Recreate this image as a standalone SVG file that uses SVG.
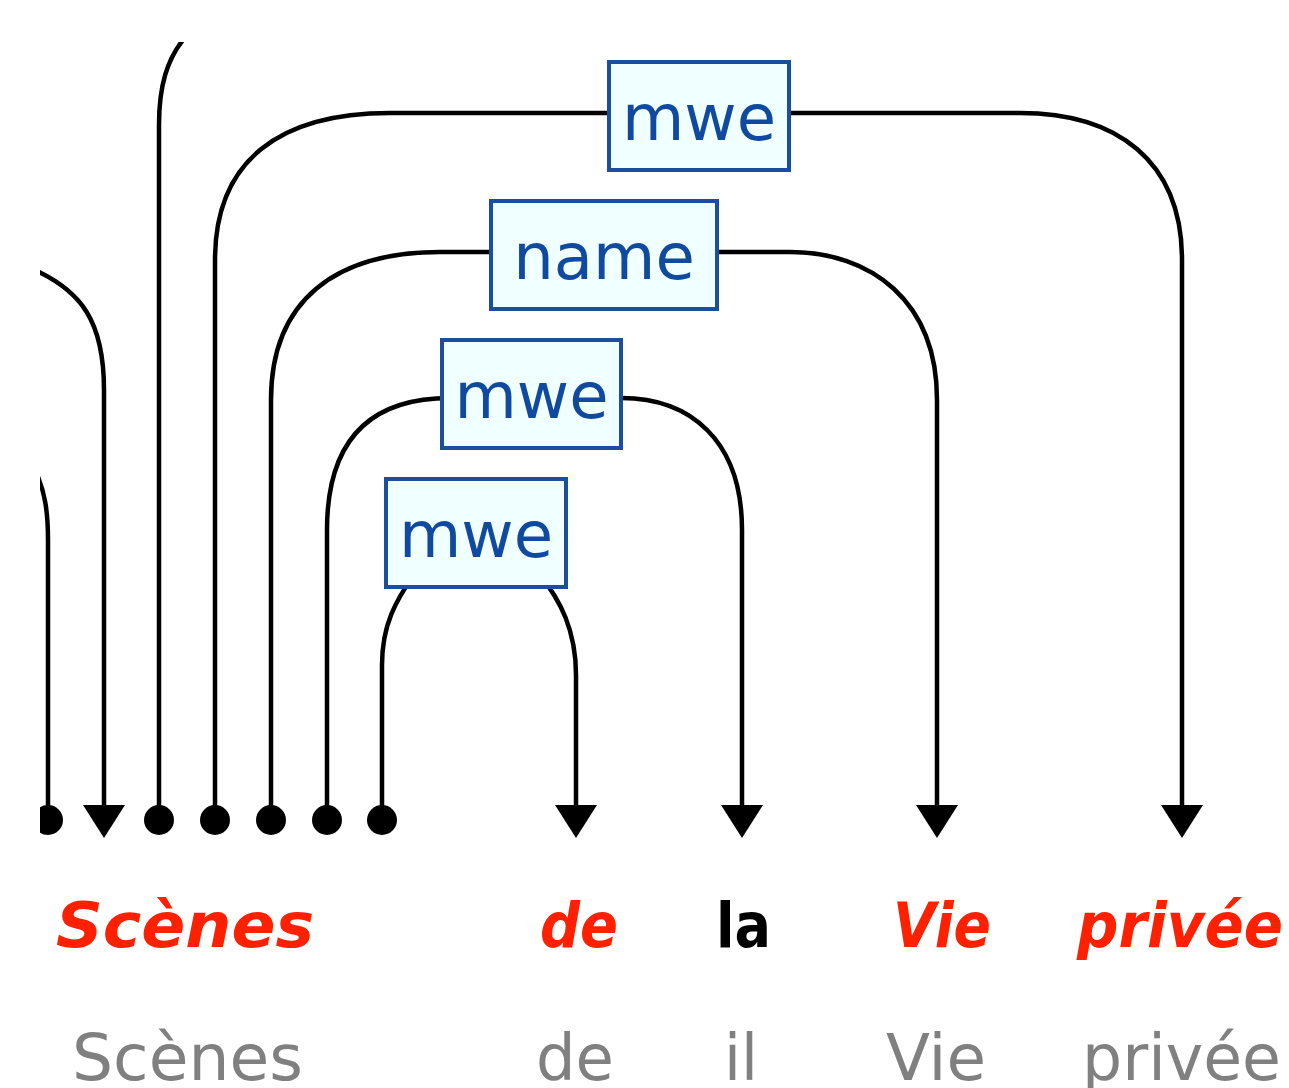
<svg xmlns="http://www.w3.org/2000/svg" width="1289" height="1088" viewBox="0 0 1289 1088">
  <style>
    .arc { fill: none; stroke: #000; stroke-width: 4.5; }
    .dot { fill: #000; }
    .head { fill: #000; }
    .lbl rect { fill: #f0ffff; stroke: #1a4e9e; stroke-width: 4; }
    .lbl text { font-family: "DejaVu Sans", Verdana, sans-serif; font-size: 64px; fill: #0f4aa0; text-anchor: middle; }
    .word { font-family: "DejaVu Sans", Verdana, sans-serif; font-size: 62px; font-weight: bold; font-style: italic; fill: #ff2000; }
    .word.plain { font-style: normal; fill: #000; }
    .lemma { font-family: "DejaVu Sans", Verdana, sans-serif; font-size: 64px; fill: #808080; }
  </style>
  <defs>
    <clipPath id="view">
      <rect x="40" y="42" width="1249" height="1046"/>
    </clipPath>
  </defs>
  <rect x="0" y="0" width="1289" height="1088" fill="#fff"/>

  <g clip-path="url(#view)">
    <!-- connectors -->
    <g id="connectors">
      <!-- arcs entering from outside the visible span -->
      <path class="arc" d="M48,820 L48,540 C48,512 45,492 36,472"/>
      <path class="arc" d="M104,808 L104,390 C104,322 82,290 30,268"/>
      <path class="arc" d="M159,820 L159,125 C159,88 166,58 188,34"/>
      <!-- mwe: Scènes -> privée -->
      <path class="arc" d="M215,820 L215,260 C215,160 280,113 390,113 L1020,113 C1116,113 1182,160 1182,260 L1182,808"/>
      <!-- name: Scènes -> Vie -->
      <path class="arc" d="M271,820 L271,400 C271,300 336,252 440,252 L790,252 C870,252 937,300 937,400 L937,808"/>
      <!-- mwe: Scènes -> la -->
      <path class="arc" d="M327,820 L327,530 C327,440 370,398 450,398 L621,398 C690,398 742,440 742,530 L742,808"/>
      <!-- mwe: Scènes -> de -->
      <path class="arc" d="M382,820 L382,665 C382,625 396,600 414,575 M540,575 C560,600 576,630 576,675 L576,808"/>

      <!-- endpoints -->
      <circle class="dot" cx="48" cy="820" r="15"/>
      <circle class="dot" cx="159" cy="820" r="15"/>
      <circle class="dot" cx="215" cy="820" r="15"/>
      <circle class="dot" cx="271" cy="820" r="15"/>
      <circle class="dot" cx="327" cy="820" r="15"/>
      <circle class="dot" cx="382" cy="820" r="15"/>
      <polygon class="head" points="83,805 125,805 104,838"/>
      <polygon class="head" points="555,805 597,805 576,838"/>
      <polygon class="head" points="721,805 763,805 742,838"/>
      <polygon class="head" points="916,805 958,805 937,838"/>
      <polygon class="head" points="1161,805 1203,805 1182,838"/>
    </g>

    <!-- relation labels -->
    <g id="label-mwe-1" class="lbl">
      <rect x="609" y="62" width="180" height="108"/>
      <text x="699" y="140">mwe</text>
    </g>
    <g id="label-name" class="lbl">
      <rect x="491" y="201" width="226" height="108"/>
      <text x="604" y="279">name</text>
    </g>
    <g id="label-mwe-2" class="lbl">
      <rect x="442" y="340" width="179" height="108"/>
      <text x="531.500" y="418">mwe</text>
    </g>
    <g id="label-mwe-3" class="lbl">
      <rect x="386" y="479" width="180" height="108"/>
      <text x="476" y="557">mwe</text>
    </g>
  </g>

  <!-- tokens -->
  <g id="token-scenes"><text class="word" x="56" y="947" textLength="258" lengthAdjust="spacingAndGlyphs">Scènes</text></g>
  <g id="token-de"><text class="word" x="540" y="947" textLength="78" lengthAdjust="spacingAndGlyphs">de</text></g>
  <g id="token-la"><text class="word plain" x="716" y="947" textLength="55" lengthAdjust="spacingAndGlyphs">la</text></g>
  <g id="token-vie"><text class="word" x="893" y="947" textLength="98" lengthAdjust="spacingAndGlyphs">Vie</text></g>
  <g id="token-privee"><text class="word" x="1077" y="947" textLength="206" lengthAdjust="spacingAndGlyphs">privée</text></g>

  <!-- lemmas -->
  <g id="lemma-scenes"><text class="lemma" x="72" y="1080" textLength="231" lengthAdjust="spacingAndGlyphs">Scènes</text></g>
  <g id="lemma-de"><text class="lemma" x="536" y="1080" textLength="78" lengthAdjust="spacingAndGlyphs">de</text></g>
  <g id="lemma-il"><text class="lemma" x="724" y="1080" textLength="34" lengthAdjust="spacingAndGlyphs">il</text></g>
  <g id="lemma-vie"><text class="lemma" x="886" y="1080" textLength="100" lengthAdjust="spacingAndGlyphs">Vie</text></g>
  <g id="lemma-privee"><text class="lemma" x="1082" y="1080" textLength="199" lengthAdjust="spacingAndGlyphs">privée</text></g>
</svg>
